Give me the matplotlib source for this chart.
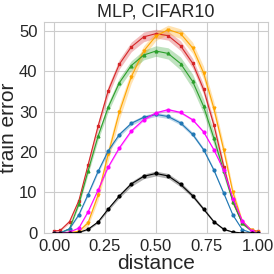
import matplotlib
matplotlib.use("Agg")
import matplotlib.pyplot as plt
import numpy as np
import seaborn as sns

sns.set_style("whitegrid")
plt.rcParams['font.family'] = ['Liberation Sans', 'DejaVu Sans']

# positions along the path (not evenly spaced)
dist = [0.0, 0.03, 0.076, 0.122, 0.167, 0.216, 0.266, 0.32, 0.379, 0.44, 0.5,
        0.56, 0.621, 0.68, 0.734, 0.784, 0.833, 0.878, 0.924, 0.97, 1.0]

red = [0.5, 0.6, 2.8, 8.0, 16.8, 26.4, 35.2, 41.7, 46.0, 48.5, 49.3,
       48.8, 46.3, 42.0, 35.5, 26.8, 16.4, 7.7, 2.4, 0.7, 0.4]
orange = [0.0, 0.0, 0.1, 0.4, 2.5, 9.3, 19.5, 29.8, 38.6, 45.0, 48.7,
          50.3, 49.3, 45.8, 39.6, 30.9, 20.5, 10.0, 2.8, 0.6, 0.3]
green = [0.0, 0.0, 1.0, 7.2, 15.3, 23.9, 31.1, 37.1, 41.4, 44.0, 45.0,
         44.4, 41.9, 37.5, 31.3, 23.5, 15.2, 7.7, 2.4, 0.4, 0.0]
blue = [0.0, 0.0, 1.0, 4.5, 9.5, 15.2, 20.3, 24.3, 27.1, 28.6, 29.3,
        28.8, 27.2, 24.4, 20.6, 15.6, 9.8, 4.4, 0.8, 0.0, 0.0]
magenta = [0.0, 0.0, 0.2, 1.2, 5.2, 10.6, 16.3, 21.0, 25.2, 28.0, 29.7,
           30.5, 29.8, 28.0, 25.0, 20.6, 15.5, 8.5, 3.0, 0.4, 0.0]
black = [0.0, 0.0, 0.0, 0.1, 0.9, 2.7, 5.9, 9.1, 12.1, 14.0, 14.7,
         14.1, 12.0, 9.2, 5.9, 2.8, 0.9, 0.2, 0.0, 0.0, 0.0]

# half width of the shaded bands
red_sd = [0.2, 0.2, 0.4, 0.7, 0.9, 1.1, 1.2, 1.2, 1.2, 1.2, 1.1,
          1.1, 1.2, 1.2, 1.2, 1.1, 0.9, 0.7, 0.4, 0.2, 0.2]
orange_sd = [0.0, 0.0, 0.1, 0.3, 0.8, 1.3, 1.7, 1.8, 1.6, 1.3, 1.1,
             1.1, 1.2, 1.4, 1.6, 1.6, 1.4, 1.0, 0.5, 0.2, 0.1]
green_sd = [0.0, 0.0, 0.2, 0.5, 0.8, 1.0, 1.1, 1.2, 1.2, 1.2, 1.3,
            1.4, 1.6, 1.8, 1.8, 1.6, 1.3, 0.8, 0.4, 0.1, 0.0]
blue_sd = [0.0, 0.0, 0.1, 0.2, 0.3, 0.4, 0.4, 0.5, 0.5, 0.5, 0.5,
           0.5, 0.5, 0.5, 0.4, 0.4, 0.3, 0.2, 0.1, 0.0, 0.0]
magenta_sd = [0.0, 0.0, 0.1, 0.1, 0.2, 0.2, 0.3, 0.3, 0.3, 0.3, 0.3,
              0.3, 0.3, 0.3, 0.3, 0.3, 0.2, 0.2, 0.1, 0.0, 0.0]
black_sd = [0.0, 0.0, 0.0, 0.1, 0.2, 0.3, 0.4, 0.5, 0.6, 0.6, 0.6,
            0.6, 0.6, 0.5, 0.4, 0.3, 0.2, 0.1, 0.0, 0.0, 0.0]

series = [
    (red, red_sd, "tab:red", "s"),
    (orange, orange_sd, "orange", "v"),
    (green, green_sd, "tab:green", "^"),
    (blue, blue_sd, "tab:blue", "o"),
    (magenta, magenta_sd, "magenta", "o"),
    (black, black_sd, "black", "o"),
]

fig = plt.figure(figsize=(2.74, 2.74), dpi=100)
ax = fig.add_axes([0.16, 0.15, 0.818, 0.77])

x = np.array(dist)
for vals, sd, col, mk in series:
    y = np.array(vals)
    s = np.array(sd)
    ax.fill_between(x, y - s, y + s, color=col, alpha=0.3, linewidth=0)
    ax.plot(x, y, color=col, marker=mk, markersize=2, linewidth=0.8)

ax.set_xlim(-0.05, 1.05)
ax.set_ylim(0, 52.2)
ax.set_xticks([0, 0.25, 0.5, 0.75, 1.0])
ax.set_xticklabels(["0.00", "0.25", "0.50", "0.75", "1.00"])
ax.set_yticks([0, 10, 20, 30, 40, 50])
ax.tick_params(labelsize=12, pad=1)
ax.set_title("MLP, CIFAR10", fontsize=13, pad=4)
ax.set_xlabel("distance", fontsize=15, labelpad=0)
ax.set_ylabel("train error", fontsize=15, labelpad=1)

plt.savefig("out.png", dpi=100)
